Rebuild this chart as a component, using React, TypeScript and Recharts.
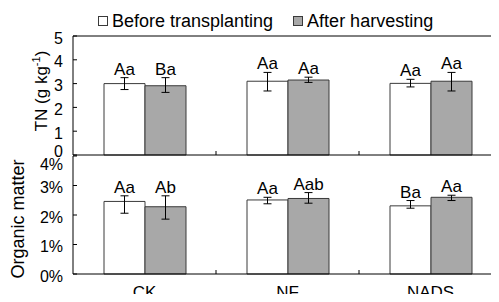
import React from "react";
import {
  Bar,
  BarChart,
  ErrorBar,
  LabelList,
  Legend,
  ReferenceLine,
  XAxis,
  YAxis,
} from "recharts";

const categories = ["CK", "NF", "NADS"];
const seriesNames = ["Before transplanting", "After harvesting"];

// total nitrogen, g/kg
const tnBefore = [3.0, 3.1, 3.01];
const tnAfter = [2.91, 3.15, 3.1];
const tnBeforeErr = [[0.25, 0.25], [0.41, 0.37], [0.15, 0.17]];
const tnAfterErr = [[0.28, 0.34], [0.1, 0.12], [0.41, 0.37]];
const tnBeforeSig = ["Aa", "Aa", "Aa"];
const tnAfterSig = ["Ba", "Aa", "Aa"];
const tnTicks = [0, 1, 2, 3, 4, 5];

// organic matter, %
const omBefore = [2.46, 2.51, 2.31];
const omAfter = [2.28, 2.56, 2.6];
const omBeforeErr = [[0.4, 0.19], [0.13, 0.09], [0.08, 0.18]];
const omAfterErr = [[0.42, 0.37], [0.16, 0.2], [0.11, 0.07]];
const omBeforeSig = ["Aa", "Aa", "Ba"];
const omAfterSig = ["Ab", "Aab", "Aa"];
const omTicks = [0, 1, 2, 3, 4];

const tnData = categories.map((name, i) => ({
  name,
  before: tnBefore[i],
  after: tnAfter[i],
  beforeErr: tnBeforeErr[i],
  afterErr: tnAfterErr[i],
  beforeSig: tnBeforeSig[i],
  afterSig: tnAfterSig[i],
}));

const omData = categories.map((name, i) => ({
  name,
  before: omBefore[i],
  after: omAfter[i],
  beforeErr: omBeforeErr[i],
  afterErr: omAfterErr[i],
  beforeSig: omBeforeSig[i],
  afterSig: omAfterSig[i],
}));

const WHITE = "#ffffff";
const GRAY = "#a8a8a8";
const EDGE = "#3a3a3a";
const CHART_W = 502;

// significance letters sit just above the top of the error bar
const sigLabel = (values: number[], errs: number[][]) => (props: any) => {
  const vb = props.viewBox || props;
  const { x, y, width, height } = vb;
  const i = props.index;
  const val = values[i];
  const hi = errs[i] ? errs[i][1] : 0;
  const top = y - (hi * height) / val;
  return (
    <text x={x + width / 2} y={top - 3} textAnchor="middle" fontSize={17} fill="#000">
      {props.value}
    </text>
  );
};

const yTick = (shift: (v: number) => number, fmt: (v: number) => string) => (props: any) => {
  const { x, y, payload } = props;
  return (
    <text x={x} y={y + shift(payload.value)} dy="0.355em" textAnchor="end" fontSize={16} fill="#000">
      {fmt(payload.value)}
    </text>
  );
};

const xTick = (props: any) => (
  <text x={props.x} y={props.y} dy={24} textAnchor="middle" fontSize={17} fill="#000">
    {props.payload.value}
  </text>
);

// short inward tick at the left edge of a category band
const innerTick = (p: any) => {
  const bottom = Math.max(p.y1, p.y2);
  return <line x1={p.x1} x2={p.x1} y1={bottom} y2={bottom - 4} stroke="#000" strokeWidth={1} />;
};

const renderLegend = () => (
  <div style={{ display: "flex", alignItems: "center", height: 30, paddingLeft: 98, fontSize: 18 }}>
    {seriesNames.map((n, i) => (
      <div key={n} style={{ display: "flex", alignItems: "center", marginRight: 20 }}>
        <span
          style={{
            width: 8,
            height: 8,
            border: `1px solid ${EDGE}`,
            background: i === 0 ? WHITE : GRAY,
            marginRight: 4,
          }}
        />
        <span>{n}</span>
      </div>
    ))}
  </div>
);

function TopPanel() {
  return (
    <BarChart
      width={CHART_W}
      height={165}
      data={tnData}
      margin={{ top: 6, right: 0, bottom: 10, left: 0 }}
      barGap={0}
      barSize={41}
    >
      <Legend
        verticalAlign="top"
        content={renderLegend}
        wrapperStyle={{ top: 6, left: 0, width: CHART_W, height: 30 }}
      />
      <XAxis dataKey="name" hide />
      <YAxis
        width={73}
        domain={[0, 5]}
        ticks={tnTicks}
        interval={0}
        tickSize={-4}
        tickMargin={14}
        axisLine={{ stroke: "#000" }}
        tickLine={{ stroke: "#000" }}
        tick={yTick((v) => (v === 0 ? -4 : 2), (v) => `${v}`)}
        label={() => (
          <text transform="rotate(-90, 47, 91)" x={47} y={91} textAnchor="middle" fontSize={17} fill="#000">
            TN (g kg<tspan dy={-7} fontSize={11}>-1</tspan>
            <tspan dy={7}>)</tspan>
          </text>
        )}
      />
      <ReferenceLine y={5} stroke="#000" />
      <ReferenceLine y={0} stroke="#000" />
      {categories.slice(1).map((c) => (
        <ReferenceLine key={c} x={c} position="start" shape={innerTick} />
      ))}
      <Bar dataKey="before" fill={WHITE} stroke={EDGE} isAnimationActive={false}>
        <ErrorBar dataKey="beforeErr" width={4} stroke="#000" strokeWidth={1} />
        <LabelList dataKey="beforeSig" content={sigLabel(tnBefore, tnBeforeErr)} />
      </Bar>
      <Bar dataKey="after" fill={GRAY} stroke={EDGE} isAnimationActive={false}>
        <ErrorBar dataKey="afterErr" width={4} stroke="#000" strokeWidth={1} />
        <LabelList dataKey="afterSig" content={sigLabel(tnAfter, tnAfterErr)} />
      </Bar>
    </BarChart>
  );
}

function BottomPanel() {
  return (
    <BarChart
      width={CHART_W}
      height={152}
      data={omData}
      margin={{ top: 6, right: 0, bottom: 0, left: 0 }}
      barGap={0}
      barSize={41}
    >
      <XAxis
        dataKey="name"
        height={28}
        axisLine={false}
        tickLine={false}
        tickSize={0}
        tickMargin={0}
        tick={xTick}
      />
      <YAxis
        width={73}
        domain={[0, 4]}
        ticks={omTicks}
        interval={0}
        tickSize={-4}
        tickMargin={14}
        axisLine={{ stroke: "#000" }}
        tickLine={{ stroke: "#000" }}
        tick={yTick((v) => (v === 4 ? 8 : 2), (v) => `${v}%`)}
        label={() => (
          <text transform="rotate(-90, 24, 69)" x={24} y={69} textAnchor="middle" fontSize={18} fill="#000">
            Organic matter
          </text>
        )}
      />
      <ReferenceLine y={0} stroke="#000" />
      {categories.slice(1).map((c) => (
        <ReferenceLine key={c} x={c} position="start" shape={innerTick} />
      ))}
      <Bar dataKey="before" fill={WHITE} stroke={EDGE} isAnimationActive={false}>
        <ErrorBar dataKey="beforeErr" width={4} stroke="#000" strokeWidth={1} />
        <LabelList dataKey="beforeSig" content={sigLabel(omBefore, omBeforeErr)} />
      </Bar>
      <Bar dataKey="after" fill={GRAY} stroke={EDGE} isAnimationActive={false}>
        <ErrorBar dataKey="afterErr" width={4} stroke="#000" strokeWidth={1} />
        <LabelList dataKey="afterSig" content={sigLabel(omAfter, omAfterErr)} />
      </Bar>
    </BarChart>
  );
}

export default function App() {
  return (
    <div
      style={{
        position: "relative",
        width: 499,
        height: 302,
        margin: -8,
        overflow: "hidden",
        background: "#fff",
        fontFamily: '"Liberation Sans", Arial, sans-serif',
        color: "#000",
      }}
    >
      <div style={{ position: "absolute", left: 0, top: 0 }}>
        <TopPanel />
      </div>
      <div style={{ position: "absolute", left: 0, top: 150 }}>
        <BottomPanel />
      </div>
    </div>
  );
}
